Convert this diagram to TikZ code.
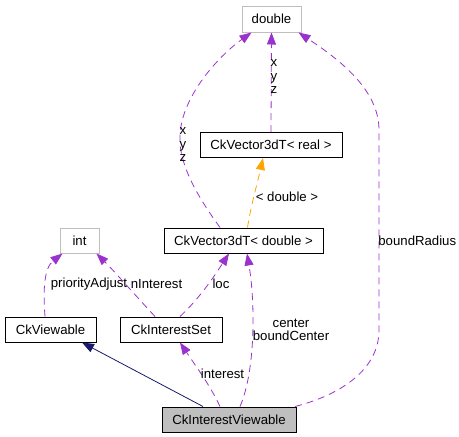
\documentclass[tikz,border=0pt]{standalone}
\usepackage{fontspec}
\setmainfont{Liberation Sans}
\usetikzlibrary{arrows.meta}
\definecolor{pur}{HTML}{9A32CD}
\definecolor{org}{HTML}{FFA500}
\definecolor{nav}{HTML}{191970}
\definecolor{gry}{HTML}{BFBFBF}
\tikzset{
  box/.style={draw=black, line width=1pt, inner sep=0pt, font=\fontsize{13.2}{14}\selectfont},
  gbox/.style={box, draw=gry},
  lbl/.style={inner sep=0pt, font=\fontsize{13.2}{13.5}\selectfont, align=center, text=black},
  tip/.style={-{Triangle[length=12pt,width=9pt]}},
  pe/.style={tip, draw=pur, line width=0.8pt, dash pattern=on 7pt off 5pt},
  oe/.style={tip, draw=org, line width=0.8pt, dash pattern=on 7pt off 5pt},
  ne/.style={tip, draw=nav, line width=0.8pt},
}
\begin{document}
\begin{tikzpicture}[x=1pt,y=-1pt]
\useasboundingbox (0,0) rectangle (459,437);
% nodes
\node[gbox, minimum width=59pt, minimum height=26pt] (dbl) at (271.5,19) {double};
\node[box, minimum width=142pt, minimum height=25pt] (vreal) at (271,145) {CkVector3dT< real >};
\node[box, minimum width=159pt, minimum height=25pt] (vdbl) at (243.5,240.5) {CkVector3dT< double >};
\node[gbox, minimum width=39pt, minimum height=25pt] (int) at (79.5,240.5) {int};
\node[box, minimum width=91pt, minimum height=25pt] (view) at (50.5,329.5) {CkViewable};
\node[box, minimum width=102pt, minimum height=25pt] (iset) at (171,329.5) {CkInterestSet};
\node[box, fill=gry, minimum width=134pt, minimum height=25pt] (civ) at (229,419.5) {CkInterestViewable};
% edges
\draw[pe] (vreal.north) -- (dbl.south)
  node[lbl] (l1) at (274,77) {x\\y\\z};
\draw[pe] ([xshift=-23.5pt]vdbl.north) .. controls (200,200) and (178,165) .. (180,135)
  .. controls (182,95) and (220,55) .. ([xshift=-20pt]dbl.south)
  node[lbl] (l2) at (183,145) {x\\y\\z};
\draw[oe] ([xshift=4pt]vdbl.north) .. controls (251,205) and (257,185) .. ([xshift=-8pt]vreal.south)
  node[lbl] (l3) at (287,197) {< double >};
\draw[pe] ([xshift=66pt]civ.north) .. controls (340,395) and (379,370) .. (379,330)
  -- (379,130) .. controls (379,90) and (340,60) .. ([xshift=27pt]dbl.south)
  node[lbl, anchor=west] (l4) at (378,241) {boundRadius};
\draw[pe] ([xshift=-5.5pt]view.north) .. controls (43,290) and (44,268) .. ([xshift=-17pt]int.south)
  node[lbl] (l5) at (89,284) {priorityAdjust};
\draw[pe] ([xshift=-16pt]iset.north) .. controls (135,295) and (115,272) .. ([xshift=17pt]int.south)
  node[lbl] (l6) at (156.5,284) {nInterest};
\draw[pe] ([xshift=9pt]iset.north) .. controls (200,298) and (215,275) .. ([xshift=-14.5pt]vdbl.south)
  node[lbl] (l7) at (221,284) {loc};
\draw[pe] ([xshift=11pt]civ.north) .. controls (256,370) and (255,300) .. ([xshift=3.5pt]vdbl.south)
  node[lbl] (l8) at (291,330) {center\\boundCenter};
\draw[pe] ([xshift=-9pt]civ.north) .. controls (210,385) and (195,365) .. ([xshift=9pt]iset.south)
  node[lbl] (l9) at (222.5,374) {interest};
\draw[ne] ([xshift=-26pt]civ.north) -- ([xshift=31.5pt]view.south);
\end{tikzpicture}
\end{document}
